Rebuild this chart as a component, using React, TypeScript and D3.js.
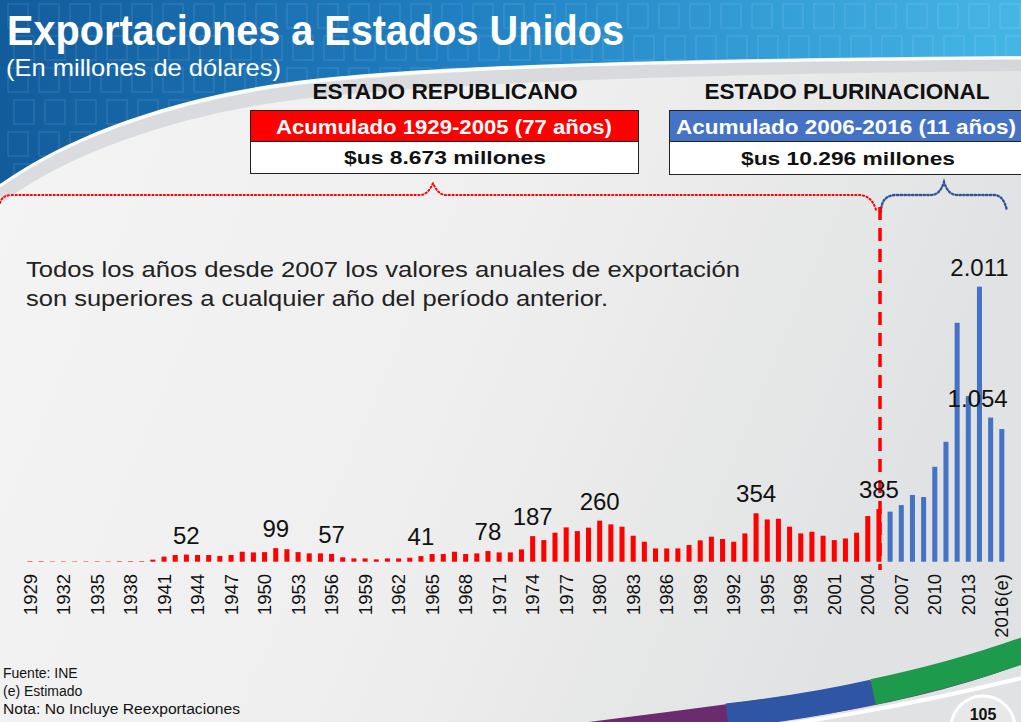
import React, { useEffect } from 'react';
import * as d3 from 'd3';

const W = 1021;
const H = 722;

// Categories
const years: number[] = d3.range(1929, 2017);

// Estado Republicano 1929-2005 (millones de dólares)
const republicanValues: number[] = [
  4, 4, 3, 3, 3, 3, 3, 3, 4, 4, 4,
  15, 37, 49, 52, 49, 49, 42, 49, 73, 68,
  70, 99, 91, 70, 61, 61, 57, 32, 24, 24,
  17, 24, 24, 29, 41, 56, 56, 73, 56, 61,
  78, 68, 68, 90, 187, 158, 212, 251, 224, 249,
  300, 273, 256, 190, 146, 97, 97, 97, 122, 156,
  183, 166, 146, 207, 354, 309, 314, 256, 207, 219,
  190, 158, 170, 212, 334, 385,
];

// Estado Plurinacional 2006-2016(e)
const plurinationalValues: number[] = [366, 414, 488, 473, 694, 877, 1747, 1211, 2011, 1054, 970];

const tickLabels: string[] = [
  '1929', '1932', '1935', '1938', '1941', '1944', '1947', '1950', '1953', '1956',
  '1959', '1962', '1965', '1968', '1971', '1974', '1977', '1980', '1983', '1986',
  '1989', '1992', '1995', '1998', '2001', '2004', '2007', '2010', '2013', '2016(e)',
];

const labelYears: number[] = [1943, 1951, 1956, 1964, 1970, 1974, 1980, 1994, 2005, 2014, 2015];
const labelTexts: string[] = ['52', '99', '57', '41', '78', '187', '260', '354', '385', '2.011', '1.054'];

const allValues = [...republicanValues, ...plurinationalValues];
const data = years.map((y, i) => ({ year: y, value: allValues[i], period: y <= 2005 ? 'R' : 'P' }));

const FONT = '"Liberation Sans", Arial, Helvetica, sans-serif';
const RED = '#ff0000';
const BLUE = '#4472c4';

export default function App() {
  useEffect(() => {
    document.body.style.margin = '0';
  }, []);

  const x = d3
    .scaleBand<number>()
    .domain(years)
    .range([24.4, 1007.4])
    .paddingInner(0.55)
    .paddingOuter(0.275);
  const y = d3.scaleLinear().domain([0, 2011]).range([561.7, 286.7]);
  const cx = (yr: number) => (x(yr) as number) + x.bandwidth() / 2;

  // decorative header squares
  const squares: { x: number; y: number }[] = [];
  for (let r = 0; r < 6; r++) {
    for (let c = 0; c < 34; c++) {
      squares.push({ x: 8 + c * 31 + (r % 2) * 6, y: 4 + r * 32 });
    }
  }

  const headerPath = 'M0,0 H1021 V56 C760,58 440,62 290,82 C170,98 70,135 0,184 Z';

  return (
    <svg width={W} height={H} style={{ display: 'block', position: 'absolute', left: 0, top: 0 }} fontFamily={FONT}>
      <defs>
        <linearGradient id="bg" x1="0" y1="0" x2="1" y2="0.3">
          <stop offset="0" stopColor="#f4f4f4" />
          <stop offset="0.55" stopColor="#efefef" />
          <stop offset="1" stopColor="#e1e2e3" />
        </linearGradient>
        <linearGradient id="hdr" x1="0" y1="0" x2="1" y2="0">
          <stop offset="0" stopColor="#125c9c" />
          <stop offset="0.45" stopColor="#1f7fc2" />
          <stop offset="1" stopColor="#45b6e6" />
        </linearGradient>
        <clipPath id="hdrClip">
          <path d={headerPath} />
        </clipPath>
      </defs>

      {/* background */}
      <rect x={0} y={0} width={W} height={H} fill="url(#bg)" />
      <path d="M0,196 C60,150 170,108 300,92 C450,74 760,66 1021,64" fill="none" stroke="#cfd2d5" strokeWidth={14} opacity={0.7} />
      <path d={headerPath} fill="url(#hdr)" />
      <g clipPath="url(#hdrClip)">
        {squares.map((s, i) => (
          <rect key={i} x={s.x} y={s.y} width={20} height={24} fill="none" stroke="#ffffff" strokeOpacity={0.13} strokeWidth={1.2} />
        ))}
      </g>
      <path d="M0,186 C70,137 170,100 290,84 C440,64 760,60 1021,58" fill="none" stroke="#ffffff" strokeWidth={3} opacity={0.9} />

      {/* bottom swoosh */}
      <path d="M540,740 C640,728 720,718 800,706 C880,694 960,676 1030,648" fill="none" stroke="#6b2c6f" strokeWidth={24} />
      <path d="M727,716 C780,710 820,704 873,692" fill="none" stroke="#2f55a5" strokeWidth={25} />
      <path d="M873,692 C930,680 975,668 1030,648" fill="none" stroke="#1e9a4c" strokeWidth={26} />
      <path d="M700,735 C800,724 900,708 1030,676" fill="none" stroke="#ffffff" strokeWidth={4} />
      <circle cx={983} cy={728} r={32} fill="#e8e8e8" stroke="#ffffff" strokeWidth={3} />
      <text x={983} y={720} textAnchor="middle" fontSize={16} fontWeight="bold" fill="#111">105</text>

      {/* titles */}
      <text x={7} y={45} fontSize={42} fontWeight="bold" fill="#ffffff" textLength={617} lengthAdjust="spacingAndGlyphs">
        Exportaciones a Estados Unidos
      </text>
      <text x={6} y={76} fontSize={24} fill="#ffffff" textLength={275} lengthAdjust="spacingAndGlyphs">
        (En millones de dólares)
      </text>

      {/* boxes */}
      <text x={445} y={99} textAnchor="middle" fontSize={22} fontWeight="bold" fill="#111" textLength={265} lengthAdjust="spacingAndGlyphs">
        ESTADO REPUBLICANO
      </text>
      <text x={847} y={99} textAnchor="middle" fontSize={22} fontWeight="bold" fill="#111" textLength={285} lengthAdjust="spacingAndGlyphs">
        ESTADO PLURINACIONAL
      </text>
      <rect x={250.5} y={110.5} width={388} height={31} fill={RED} stroke="#222" strokeWidth={1} />
      <rect x={250.5} y={141.5} width={388} height={32} fill="#ffffff" stroke="#222" strokeWidth={1} />
      <text x={444} y={134} textAnchor="middle" fontSize={20} fontWeight="bold" fill="#ffffff" textLength={336} lengthAdjust="spacingAndGlyphs">
        Acumulado 1929-2005 (77 años)
      </text>
      <text x={445} y={164} textAnchor="middle" fontSize={19} fontWeight="bold" fill="#111" textLength={202} lengthAdjust="spacingAndGlyphs">
        $us 8.673 millones
      </text>
      <rect x={669.5} y={110.5} width={360} height={31} fill={BLUE} stroke="#222" strokeWidth={1} />
      <rect x={669.5} y={141.5} width={360} height={33} fill="#ffffff" stroke="#222" strokeWidth={1} />
      <text x={846} y={134} textAnchor="middle" fontSize={20} fontWeight="bold" fill="#ffffff" textLength={340} lengthAdjust="spacingAndGlyphs">
        Acumulado 2006-2016 (11 años)
      </text>
      <text x={848} y={165} textAnchor="middle" fontSize={19} fontWeight="bold" fill="#111" textLength={214} lengthAdjust="spacingAndGlyphs">
        $us 10.296 millones
      </text>

      {/* braces */}
      <path
        d="M0,203 Q2,195 12,195 H420 Q428,195 433,183 Q438,195 446,195 H860 Q872,196 876,210"
        fill="none" stroke={RED} strokeWidth={2} strokeDasharray="1.2 2.6" strokeLinecap="round"
      />
      <path
        d="M881,212 Q881,196 895,195 H931 Q940,195 944,182 Q948,195 957,195 H995 Q1004,196 1007,211"
        fill="none" stroke="#2f5597" strokeWidth={2.4} strokeDasharray="1.4 2.4" strokeLinecap="round"
      />

      {/* annotation */}
      <text x={26} y={277} fontSize={22} fill="#222" textLength={714} lengthAdjust="spacingAndGlyphs">
        Todos los años desde 2007 los valores anuales de exportación
      </text>
      <text x={26} y={306} fontSize={22} fill="#222" textLength={582} lengthAdjust="spacingAndGlyphs">
        son superiores a cualquier año del período anterior.
      </text>

      {/* bars */}
      <g>
        {data.map((d) => (
          <rect
            key={d.year}
            x={x(d.year)}
            y={y(d.value)}
            width={x.bandwidth()}
            height={y(0) - y(d.value)}
            fill={d.period === 'R' ? RED : BLUE}
          />
        ))}
      </g>

      {/* divider */}
      <line x1={880} x2={880} y1={207} y2={570} stroke={RED} strokeWidth={3.5} strokeDasharray="13 8" />

      {/* value labels */}
      {labelYears.map((yr, i) => {
        const v = data.find((d) => d.year === yr)!.value;
        const dx = labelTexts[i] === '1.054' ? -13 : 0;
        return (
          <text key={yr} x={cx(yr) + dx} y={y(v) - 11} textAnchor="middle" fontSize={24} fill="#111">
            {labelTexts[i]}
          </text>
        );
      })}

      {/* x axis tick labels */}
      {tickLabels.map((t) => {
        const yr = parseInt(t, 10);
        return (
          <text
            key={t}
            transform={`translate(${cx(yr)},574) rotate(-90)`}
            textAnchor="end"
            dy="0.36em"
            fontSize={18.5}
            fill="#111"
          >
            {t}
          </text>
        );
      })}

      {/* footer */}
      <text x={3} y={678} fontSize={14} fill="#111">Fuente: INE</text>
      <text x={3} y={696} fontSize={14} fill="#111">(e) Estimado</text>
      <text x={3} y={714} fontSize={14} fill="#111" textLength={237} lengthAdjust="spacingAndGlyphs">
        Nota: No Incluye Reexportaciones
      </text>
    </svg>
  );
}
